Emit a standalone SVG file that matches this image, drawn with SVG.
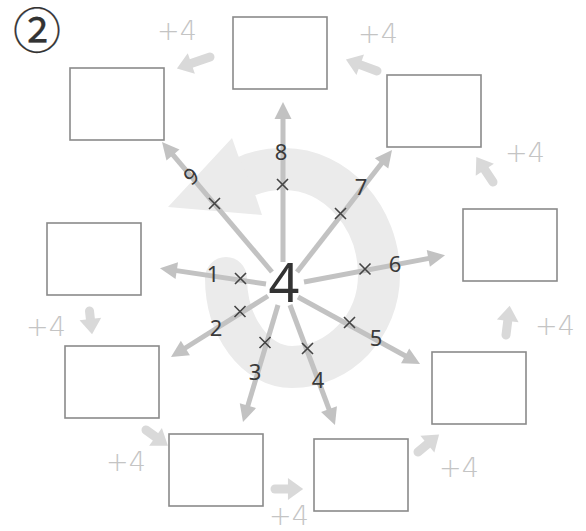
<svg xmlns="http://www.w3.org/2000/svg" width="586" height="531" viewBox="0 0 586 531">
<style>
.box{fill:#fff;stroke:#8a8a8a;stroke-width:1.6}
.ray{stroke:#c2c2c2;stroke-width:5;fill:none}
.sm{stroke:#d9d9d9;stroke-width:9;fill:none;stroke-linecap:round}
.x{stroke:#444;stroke-width:1.6}
.lbl{font-family:"Noto Sans","DejaVu Sans",sans-serif;font-size:22px;fill:#3a3a3a;text-anchor:middle}
.p4{font-family:"DejaVu Sans","Noto Sans",sans-serif;font-weight:200;font-size:27px;fill:#c4c4c4;text-anchor:middle}
</style>
<defs>
<marker id="ah" markerUnits="userSpaceOnUse" markerWidth="20" markerHeight="20" viewBox="-3 -9 20 18" refX="0" refY="0" orient="auto">
<path d="M-2,-8.5 L15,0 L-2,8.5 z" fill="#c2c2c2"/>
</marker>
<marker id="sh" markerUnits="userSpaceOnUse" markerWidth="20" markerHeight="24" viewBox="-3 -11 18 22" refX="0" refY="0" orient="auto">
<path d="M-1,-10 L13,0 L-1,10 z" fill="#d9d9d9"/>
</marker>
</defs>
<g id="badge">
<text x="37" y="48" font-family="'Noto Sans CJK JP','DejaVu Sans',sans-serif" font-size="48" fill="#333" text-anchor="middle" stroke="#333" stroke-width="0.25">②</text>
</g>
<g id="spiral">
<path d="M226,278 C226,327 256,367 292,367 C339,367 379,326 379,275 C379,217 336,169 284,169 C268,169 258,171 247,176" fill="none" stroke="#ebebeb" stroke-width="42" stroke-linecap="round"/>
<polygon points="168,207 232,138 238,155 256,197 262,215" fill="#ebebeb"/>
</g>
<g id="connectors">
<line class="ray" x1="283" y1="262" x2="283" y2="117" marker-end="url(#ah)"/>
<line class="ray" x1="272" y1="272" x2="171.7" y2="153.4" marker-end="url(#ah)"/>
<line class="ray" x1="297" y1="272" x2="382.8" y2="161.8" marker-end="url(#ah)"/>
<line class="ray" x1="304" y1="282" x2="430.3" y2="258.1" marker-end="url(#ah)"/>
<line class="ray" x1="266" y1="284" x2="174.8" y2="270.4" marker-end="url(#ah)"/>
<line class="ray" x1="268" y1="296" x2="183.7" y2="349" marker-end="url(#ah)"/>
<line class="ray" x1="278" y1="305" x2="247.3" y2="407.6" marker-end="url(#ah)"/>
<line class="ray" x1="290" y1="305" x2="329.7" y2="411" marker-end="url(#ah)"/>
<line class="ray" x1="298" y1="297" x2="406.9" y2="356.8" marker-end="url(#ah)"/>
<line class="sm" x1="210" y1="57" x2="190.3" y2="63.8" marker-end="url(#sh)"/>
<line class="sm" x1="377" y1="71" x2="359.2" y2="64.4" marker-end="url(#sh)"/>
<line class="sm" x1="493" y1="182" x2="484.2" y2="168.8" marker-end="url(#sh)"/>
<line class="sm" x1="506" y1="335" x2="507.9" y2="319.8" marker-end="url(#sh)"/>
<line class="sm" x1="418" y1="452" x2="428.2" y2="443.5" marker-end="url(#sh)"/>
<line class="sm" x1="275" y1="489" x2="289" y2="489" marker-end="url(#sh)"/>
<line class="sm" x1="146" y1="430" x2="156.4" y2="437.5" marker-end="url(#sh)"/>
<line class="sm" x1="89.5" y1="311" x2="90.5" y2="320.1" marker-end="url(#sh)"/>
</g>
<g id="marks">
<path class="x" d="M277,179 l11,11 m0,-11 l-11,11"/>
<path class="x" d="M209,198 l11,11 m0,-11 l-11,11"/>
<path class="x" d="M335,208 l11,11 m0,-11 l-11,11"/>
<path class="x" d="M359.5,263.5 l11,11 m0,-11 l-11,11"/>
<path class="x" d="M235,273 l11,11 m0,-11 l-11,11"/>
<path class="x" d="M234.5,306 l11,11 m0,-11 l-11,11"/>
<path class="x" d="M259.5,337 l11,11 m0,-11 l-11,11"/>
<path class="x" d="M302,343 l11,11 m0,-11 l-11,11"/>
<path class="x" d="M344,317 l11,11 m0,-11 l-11,11"/>
</g>
<g id="labels">
<text class="lbl" x="281" y="160">8</text>
<text class="lbl" x="191" y="184" transform="rotate(-35 191 176)">9</text>
<text class="lbl" x="361" y="195">7</text>
<text class="lbl" x="395" y="272">6</text>
<text class="lbl" x="213" y="282">1</text>
<text class="lbl" x="216" y="336">2</text>
<text class="lbl" x="255" y="380">3</text>
<text class="lbl" x="318" y="388">4</text>
<text class="lbl" x="376" y="346">5</text>
</g>
<g id="center">
<text x="284" y="302" font-family="'Noto Sans','DejaVu Sans',sans-serif" font-size="54" fill="#333" text-anchor="middle">4</text>
</g>
<g id="plus">
<text class="p4" x="177" y="40">+4</text>
<text class="p4" x="378" y="43">+4</text>
<text class="p4" x="525" y="162">+4</text>
<text class="p4" x="555" y="335">+4</text>
<text class="p4" x="459" y="477">+4</text>
<text class="p4" x="289" y="525">+4</text>
<text class="p4" x="126" y="471">+4</text>
<text class="p4" x="46" y="336">+4</text>
</g>
<g id="box-top"><rect class="box" x="233" y="17" width="94" height="72"/></g>
<g id="box-topleft"><rect class="box" x="70" y="68" width="94" height="72"/></g>
<g id="box-topright"><rect class="box" x="387" y="75" width="94" height="72"/></g>
<g id="box-right"><rect class="box" x="463" y="209" width="94" height="72"/></g>
<g id="box-left"><rect class="box" x="47" y="223" width="94" height="72"/></g>
<g id="box-lowerleft"><rect class="box" x="65" y="346" width="94" height="72"/></g>
<g id="box-bottomleft"><rect class="box" x="169" y="434" width="94" height="72"/></g>
<g id="box-bottomright"><rect class="box" x="314" y="439" width="94" height="72"/></g>
<g id="box-lowerright"><rect class="box" x="432" y="352" width="94" height="72"/></g>
</svg>
